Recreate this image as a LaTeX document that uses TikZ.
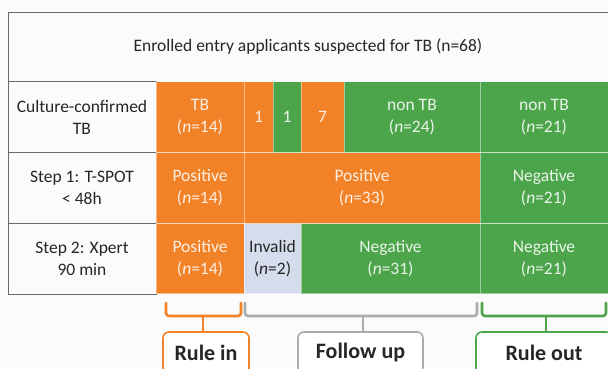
\documentclass[tikz,border=0pt]{standalone}
\usepackage{fontspec}
\setmainfont{Carlito}
\definecolor{tbor}{HTML}{F28227}
\definecolor{tbgr}{HTML}{4DA54B}
\definecolor{tbbl}{HTML}{D5DCEC}
\definecolor{frm}{HTML}{6A6A6A}
\definecolor{brgray}{HTML}{ABABAB}
\definecolor{lbl}{HTML}{FAFBFD}
\begin{document}
\begin{tikzpicture}[x=1pt,y=-1pt,
  cell/.style={draw=white,draw opacity=0.45,line width=0.8pt,inner sep=0pt,
    align=center,font=\fontsize{17.5}{22}\selectfont,text=white,text opacity=0.88},
  ocell/.style={cell,fill=tbor},
  gcell/.style={cell,fill=tbgr},
  lcell/.style={draw=frm,line width=1pt,fill=lbl,inner sep=0pt,align=center,
    font=\fontsize{17.5}{22}\selectfont,text=black!85,minimum width=148pt,minimum height=71pt},
  brace/.style={line width=2.6pt,rounded corners=3pt,line cap=round},
  stemline/.style={line width=2.6pt},
  outbox/.style={draw,line width=1.6pt,rounded corners=6pt,fill=white,inner sep=0pt,
    font=\bfseries\fontsize{22}{24}\selectfont,text=black!85,minimum height=42pt}]
\useasboundingbox (0,0) rectangle (608,368);
\fill[white!97!gray] (0,0) rectangle (608,368);
% title
\node[draw=frm,line width=1pt,fill=lbl,minimum width=600pt,minimum height=70pt,inner sep=0pt,
  font=\fontsize{17.5}{22}\selectfont,text=black!85] (title) at (308,47)
  {Enrolled entry applicants suspected for TB (n=68)};
% label column
\node[lcell] (l1) at (82,117) {Culture-confirmed\\TB};
\node[lcell] (l2) at (82,188) {Step 1: T-SPOT\\{<} 48h};
\node[lcell] (l3) at (82,258.5) {Step 2: Xpert\\90 min};
% row 1
\node[ocell,minimum width=88pt,minimum height=71pt] (r1a) at (200,117) {TB\\(\textit{n}=14)};
\node[ocell,minimum width=29pt,minimum height=71pt] (r1b) at (258.5,117) {1};
\node[gcell,minimum width=28pt,minimum height=71pt] (r1c) at (287,117) {1};
\node[ocell,minimum width=43pt,minimum height=71pt] (r1d) at (322.5,117) {7};
\node[gcell,minimum width=136pt,minimum height=71pt] (r1e) at (412,117) {non TB\\(\textit{n}=24)};
\node[gcell,minimum width=128pt,minimum height=71pt] (r1f) at (544,117) {non TB\\(\textit{n}=21)};
% row 2
\node[ocell,minimum width=88pt,minimum height=71pt] (r2a) at (200,188) {Positive\\(\textit{n}=14)};
\node[ocell,minimum width=236pt,minimum height=71pt] (r2b) at (362,188) {Positive\\(\textit{n}=33)};
\node[gcell,minimum width=128pt,minimum height=71pt] (r2c) at (544,188) {Negative\\(\textit{n}=21)};
% row 3
\node[ocell,minimum width=88pt,minimum height=70pt] (r3a) at (200,258.5) {Positive\\(\textit{n}=14)};
\node[cell,fill=tbbl,text=black!85,text opacity=1,minimum width=57pt,minimum height=70pt] (r3b) at (272.5,258.5) {Invalid\\(\textit{n}=2)};
\node[gcell,minimum width=179pt,minimum height=70pt] (r3c) at (390.5,258.5) {Negative\\(\textit{n}=31)};
\node[gcell,minimum width=128pt,minimum height=70pt] (r3d) at (544,258.5) {Negative\\(\textit{n}=21)};
% outcome boxes
\node[outbox,draw=tbor,minimum width=86pt] (rin) at (206,353) {Rule in};
\node[outbox,draw=brgray,minimum width=125pt] (fup) at (360.5,353) {Follow up};
\node[outbox,draw=tbgr,minimum width=136pt] (rout) at (544,353) {Rule out};
% braces
\coordinate (ob) at (203,316);
\coordinate (gb) at (363,316);
\coordinate (eb) at (546,316);
\draw[brace,tbor] (166,303) -- (166,316) -- (241,316) -- (241,303);
\draw[stemline,tbor] (ob) -- (ob |- rin.north);
\draw[brace,brgray] (245,303) -- (245,316) -- (477,316) -- (477,303);
\draw[stemline,brgray] (gb) -- (gb |- fup.north);
\draw[brace,tbgr] (482,303) -- (482,316) -- (606,316) -- (606,303);
\draw[stemline,tbgr] (eb) -- (eb |- rout.north);
\end{tikzpicture}
\end{document}
